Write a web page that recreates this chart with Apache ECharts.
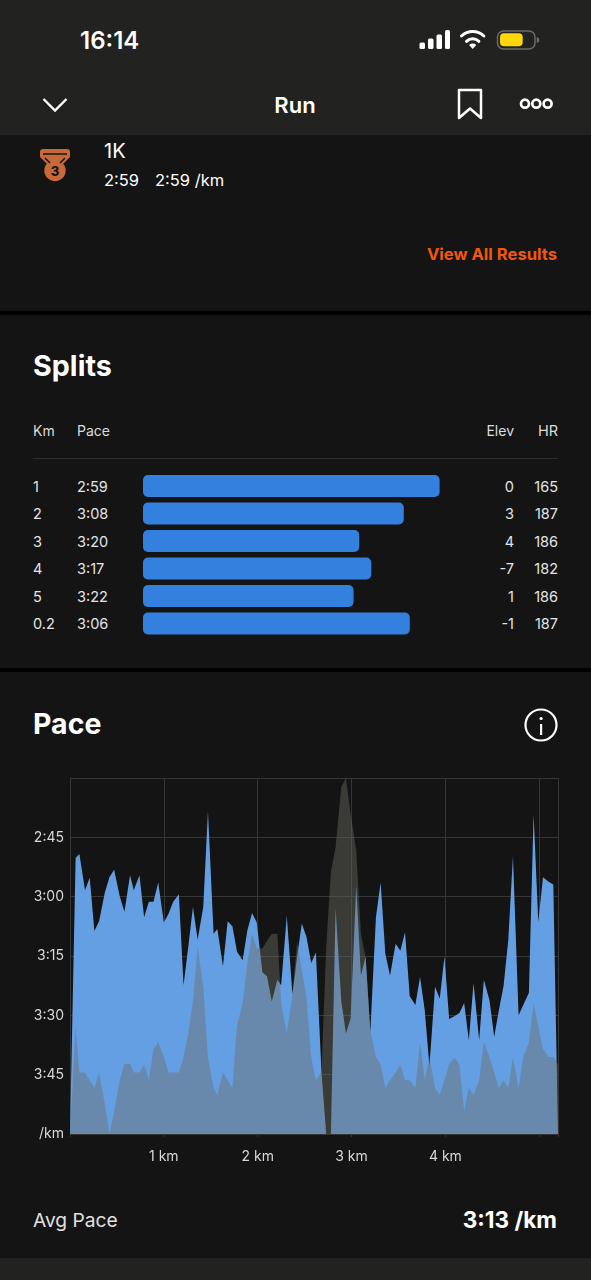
<!DOCTYPE html>
<html>
<head>
<meta charset="utf-8">
<title>Run</title>
<script src="https://cdn.jsdelivr.net/npm/echarts@6/dist/echarts.min.js"></script>
<style>
html, body { margin: 0; padding: 0; background: #141414; }
#page { position: relative; width: 591px; height: 1280px; overflow: hidden; background: #141414; font-family: Inter, "Noto Sans", sans-serif; color: #fff; }
.band { position: absolute; left: 0; width: 591px; }
.t { position: absolute; height: 30px; line-height: 30px; white-space: nowrap; }
.r { text-align: right; }
#splitsChart { position: absolute; left: 0; top: 460px; width: 591px; height: 190px; }
#paceChart { position: absolute; left: 0; top: 760px; width: 591px; height: 410px; }
svg { position: absolute; left: 0; top: 0; }
</style>
</head>
<body>
<div id="page">
  <div class="band" style="top:0;height:135px;background:#222221"></div>
  <div class="band" style="top:311px;height:4px;background:#000"></div>
  <div class="band" style="top:668px;height:4px;background:#000"></div>
  <div class="band" style="top:1258px;height:22px;background:#222221"></div>
  <div class="band" style="top:458px;left:33px;width:525px;height:1px;background:#2b2b2b"></div>

  <svg width="591" height="1280" viewBox="0 0 591 1280" fill="none">
    <!-- status bar -->
    <g fill="#fff">
      <rect x="419.5" y="42.5" width="5.5" height="6.5" rx="1.5"/>
      <rect x="428" y="38.5" width="5.5" height="10.5" rx="1.5"/>
      <rect x="436.5" y="34.5" width="5.5" height="14.5" rx="1.5"/>
      <rect x="445" y="30" width="5" height="19" rx="1.5"/>
      <path d="M472.7 49 l-3.6 -4 a5.2 5.2 0 0 1 7.2 0 z"/>
    </g>
    <g stroke="#fff" stroke-width="3" stroke-linecap="round">
      <path d="M466.5 41.3 a9 9 0 0 1 12.4 0"/>
      <path d="M461.5 36 a16.5 16.5 0 0 1 22.4 0"/>
    </g>
    <rect x="497.5" y="31" width="37.5" height="18" rx="6" stroke="#6a6a6a" stroke-width="1.5"/>
    <rect x="500" y="33.3" width="22.7" height="13" rx="4" fill="#ffd60a"/>
    <path d="M536.7 37 q2.6 .6 2.6 3 t-2.6 3 z" fill="#6a6a6a"/>
    <!-- nav bar -->
    <path d="M43.5 99 L55 110.5 L66.5 99" stroke="#fff" stroke-width="2.4"/>
    <path d="M459 90 H481 V118 L470 108.5 L459 118 Z" stroke="#fff" stroke-width="2.5" stroke-linejoin="round"/>
    <g stroke="#fff" stroke-width="2.7">
      <circle cx="525" cy="103.7" r="4"/>
      <circle cx="536.3" cy="103.7" r="4"/>
      <circle cx="547.6" cy="103.7" r="4"/>
    </g>
    <!-- medal -->
    <path d="M43 149 H67 Q70 149 70 152 V157 L63 164 H47 L40 157 V152 Q40 149 43 149 Z" fill="#c8693a"/>
    <circle cx="55" cy="170.5" r="10.7" fill="#c8693a"/>
    <path d="M43 154 H67 M45 158 L50 163 M65 158 L60 163" stroke="#141414" stroke-width="1.5"/>
    <text x="55" y="175.5" text-anchor="middle" font-family="Inter" font-weight="800" font-size="13" fill="#141414">3</text>
    <!-- info -->
    <circle cx="541" cy="725" r="15.5" stroke="#fff" stroke-width="2.2"/>
    <rect x="540" y="724" width="2.2" height="11" fill="#fff"/>
    <circle cx="541.1" cy="718.5" r="1.6" fill="#fff"/>
  </svg>

  <div class="t" style="left:80px;top:26px;font-size:24px;font-weight:600">16:14</div>
  <div class="t" style="left:245px;width:100px;top:90px;text-align:center;font-size:22px;font-weight:600">Run</div>
  <div class="t" style="left:104px;top:136px;font-size:20px">1K</div>
  <div class="t" style="left:104px;top:165px;font-size:16.5px">2:59</div>
  <div class="t" style="left:155px;top:165px;font-size:16.5px">2:59 /km</div>
  <div class="t r" style="right:34px;top:239px;font-size:16.6px;font-weight:700;color:#f2570d">View All Results</div>
  <div class="t" style="left:33px;top:351px;font-size:28.7px;font-weight:700">Splits</div>
  <div class="t" style="left:33px;top:415.5px;font-size:14px;color:#dcdcdc">Km</div>
  <div class="t" style="left:77px;top:415.5px;font-size:14px;color:#dcdcdc">Pace</div>
  <div class="t r" style="right:77px;top:415.5px;font-size:14px;color:#dcdcdc">Elev</div>
  <div class="t r" style="right:33px;top:415.5px;font-size:14.5px;color:#dcdcdc">HR</div>
  <div id="rows"></div>
  <div id="splitsChart"></div>
  <div class="t" style="left:33px;top:709px;font-size:28.5px;font-weight:700">Pace</div>
  <div id="paceChart"></div>
  <div class="t" style="left:33px;top:1205px;font-size:19.2px;color:#e0e0e0">Avg Pace</div>
  <div class="t r" style="right:34px;top:1205px;font-size:22.6px;font-weight:700">3:13 /km</div>
</div>

<script>
// splits table
const splitKm = ['1', '2', '3', '4', '5', '0.2'];
const splitPace = ['2:59', '3:08', '3:20', '3:17', '3:22', '3:06'];
const splitElev = ['0', '3', '4', '-7', '1', '-1'];
const splitHr = ['165', '187', '186', '182', '186', '187'];
const splitSpeed = [20.10, 19.15, 17.97, 18.29, 17.82, 19.31]; // km/h, drives bar length

// pace chart, distance in km
const distanceKm = [
    0, 0.06, 0.10, 0.16, 0.21, 0.26, 0.31, 0.37, 0.42, 0.47,
    0.53, 0.58, 0.64, 0.68, 0.74, 0.79, 0.84, 0.89, 0.94, 1.00,
    1.05, 1.10, 1.16, 1.21, 1.26, 1.31, 1.36, 1.42, 1.47, 1.53,
    1.57, 1.63, 1.68, 1.73, 1.78, 1.84, 1.89, 1.94, 1.99, 2.05,
    2.10, 2.15, 2.21, 2.25, 2.31, 2.37, 2.42, 2.47, 2.52, 2.57,
    2.62, 2.68, 2.73, 2.78, 2.83, 2.89, 2.94, 2.99, 3.05, 3.10,
    3.15, 3.20, 3.26, 3.31, 3.36, 3.41, 3.47, 3.52, 3.57, 3.62,
    3.68, 3.73, 3.78, 3.83, 3.89, 3.94, 3.99, 4.04, 4.10, 4.15,
    4.20, 4.25, 4.30, 4.36, 4.41, 4.47, 4.52, 4.57, 4.62, 4.67,
    4.72, 4.78, 4.83, 4.89, 4.94, 4.99, 5.04, 5.10, 5.15, 5.20
];
// seconds per km
const paceSec = [
    240, 170.2, 169.2, 178.4, 175.2, 188.7, 186.2, 179.1, 175.1, 173.2,
    179.9, 183.8, 174.6, 178.4, 174.6, 185.2, 181.3, 181.3, 176.4, 186.5,
    184.3, 181.3, 179.4, 202.4, 192.7, 182.6, 190.9, 182.6, 158.4, 189.4,
    188.2, 197.6, 186.2, 187.5, 193.9, 196.1, 188.5, 184.1, 186.5, 199.1,
    200.1, 206.5, 201, 202.4, 184.8, 204.7, 195.2, 186.8, 190.2, 196.8,
    194.1, 224.3, 240, 240, 182.8, 206.2, 214.6, 210.8, 177.2, 199.9,
    195.1, 214.2, 185.2, 176.4, 194.4, 199.9, 191.9, 193.7, 189, 205.2,
    207.4, 200.3, 208.7, 222.8, 202.8, 205.8, 195.1, 210.9, 210.2, 209.4,
    206.9, 216.3, 201.8, 216.3, 201, 206.2, 215.4, 208.7, 202.6, 191,
    169.8, 210, 207.4, 204.3, 159.1, 186.4, 175.1, 176.2, 176.9, 240
];
// metres above lowest point
const elevationM = [
    0, 13.8, 7.9, 7.9, 6.9, 5.9, 7.9, 3.9, 0, 2.9,
    6.9, 9, 9, 7.9, 7.9, 8.9, 6.9, 10.9, 11.8, 9.9,
    7.9, 7.9, 7.9, 9.9, 12.9, 17, 24, 18.9, 9.9, 5.9,
    5, 7.9, 6.9, 5.9, 14, 16.8, 21.9, 25.7, 23.8, 23.8,
    24.8, 25.7, 25.7, 16.8, 12.9, 17.9, 24.7, 21, 17.6, 9.9,
    6.9, 8, 24, 33.6, 36.8, 44.5, 45.7, 41.1, 36.4, 25.7,
    22.7, 13.3, 9.9, 9, 5.9, 6.9, 7.9, 8.9, 6.9, 6.9,
    5.9, 11.8, 7, 9.9, 5.9, 5, 6.9, 9, 9.8, 8.9,
    3, 5.9, 5, 6.9, 11.8, 9.9, 7.9, 5.9, 6.9, 5.9,
    9.8, 5.9, 9.9, 11.8, 16.8, 13.8, 10.9, 9.9, 9.9, 9
];
const paceTicks = [150, 165, 180, 195, 210, 225, 240];
const paceTickLabels = ['', '2:45', '3:00', '3:15', '3:30', '3:45', '/km'];
const kmTicks = [0, 1, 2, 3, 4, 5];
const kmTickLabels = ['', '1 km', '2 km', '3 km', '4 km', ''];

const gridColor = '#363636';
const labelColor = '#d8d8d8';

// table rows
const rows = document.getElementById('rows');
function addCell(text, y, css) {
    const el = document.createElement('div');
    el.className = 't';
    el.textContent = text;
    el.style.cssText = 'top:' + (y - 14.5) + 'px;font-size:14.5px;color:#e4e4e4;' + css;
    rows.appendChild(el);
}
splitKm.forEach(function (km, i) {
    const y = 486 + i * 27.5;
    addCell(km, y, 'left:33px');
    addCell(splitPace[i], y, 'left:77px');
    addCell(splitElev[i], y, 'right:77px');
    addCell(splitHr[i], y, 'right:33px');
});

const splitsChart = echarts.init(document.getElementById('splitsChart'));
splitsChart.setOption({
    animation: false,
    grid: { left: 143, top: 12.25, width: 297, height: 165 },
    xAxis: { type: 'value', min: 12.24, max: 20.11, show: false },
    yAxis: { type: 'category', inverse: true, data: splitKm, show: false },
    series: [{
        type: 'bar',
        data: splitSpeed,
        barWidth: 22,
        itemStyle: { color: '#3480de', borderRadius: 5 }
    }]
});

const paceChart = echarts.init(document.getElementById('paceChart'));
paceChart.setOption({
    animation: false,
    textStyle: { fontFamily: 'Inter' },
    grid: { left: 70, right: 33, top: 18, height: 356 },
    xAxis: {
        type: 'value',
        min: 0,
        max: 5.2,
        interval: 1,
        axisLine: { show: true, lineStyle: { color: gridColor } },
        axisTick: { show: true, length: 3, lineStyle: { color: gridColor } },
        axisLabel: {
            color: labelColor,
            fontSize: 14,
            margin: 15.5,
            formatter: function (v) {
                const i = kmTicks.indexOf(v);
                return i < 0 ? '' : kmTickLabels[i];
            }
        },
        splitLine: { show: true, lineStyle: { color: gridColor } }
    },
    yAxis: [{
        type: 'value',
        inverse: true,
        min: 150,
        max: 240,
        interval: 15,
        axisLine: { show: true, lineStyle: { color: gridColor } },
        axisTick: { show: false },
        axisLabel: {
            color: labelColor,
            fontSize: 14,
            margin: 6,
            padding: [2, 0, 0, 0],
            formatter: function (v) {
                return paceTickLabels[paceTicks.indexOf(v)];
            }
        },
        splitLine: { show: true, lineStyle: { color: gridColor } }
    }, {
        type: 'value',
        min: 0,
        max: 45.7,
        show: false
    }],
    series: [{
        type: 'line',
        data: distanceKm.map(function (d, i) { return [d, paceSec[i]]; }),
        yAxisIndex: 0,
        showSymbol: false,
        lineStyle: { width: 0 },
        areaStyle: { color: '#659fe3', opacity: 1, origin: 'end' }
    }, {
        type: 'line',
        data: distanceKm.map(function (d, i) { return [d, elevationM[i]]; }),
        yAxisIndex: 1,
        showSymbol: false,
        lineStyle: { width: 0 },
        areaStyle: { color: 'rgb(108,108,99)', opacity: 0.43, origin: 'start' }
    }]
});
</script>
</body>
</html>
